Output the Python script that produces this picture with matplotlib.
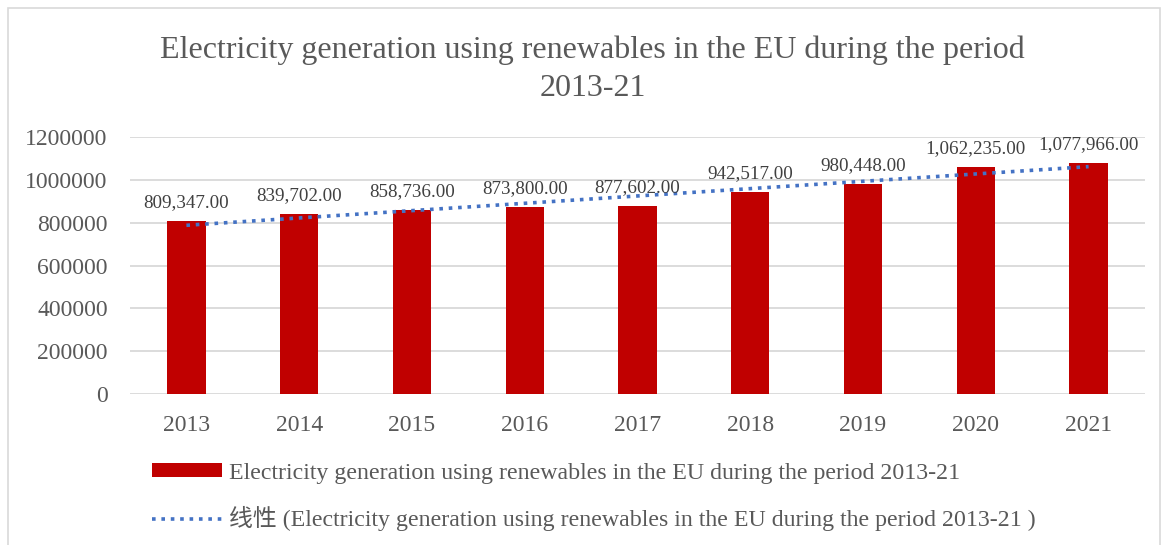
import numpy as np
import matplotlib
matplotlib.use('Agg')
import matplotlib.pyplot as plt
from matplotlib.patches import Patch, Rectangle
from matplotlib.lines import Line2D

plt.rcParams['font.family'] = ['Liberation Serif', 'Noto Sans CJK SC']

years = ['2013', '2014', '2015', '2016', '2017', '2018', '2019', '2020', '2021']
values = [809347, 839702, 858736, 873800, 877602, 942517, 980448, 1062235, 1077966]
series_name = 'Electricity generation using renewables in the EU during the period 2013-21'
trend_name = '线性 (Electricity generation using renewables in the EU during the period 2013-21 )'

text_col = '#595959'
bar_col = '#C00000'
trend_col = '#4472C4'
grid_col = '#D9D9D9'

fig = plt.figure(figsize=(11.67, 5.45), dpi=100)
ax = fig.add_axes([130/1167, 1-394/545, 1015/1167, (394-137)/545])

x = np.arange(len(years))
ax.bar(x, values, width=0.34, color=bar_col, zorder=2)

# linear trendline like excel
k, b = np.polyfit(x, values, 1)
ax.plot(x, k*x + b, color=trend_col, linestyle=(0, (1, 1.6)), linewidth=2.6, zorder=3)

for xi, v in zip(x, values):
    ax.text(xi, v + 45000, f'{v:,.2f}', ha='center', va='bottom', fontsize=13.7, color='#404040')

ax.set_xlim(-0.5, len(years) - 0.5)
ax.set_ylim(0, 1200000)
ax.set_yticks(np.arange(0, 1200001, 200000))
ax.set_yticklabels([str(t) for t in range(0, 1200001, 200000)])
ax.set_xticks(x)
ax.set_xticklabels(years)
ax.tick_params(length=0, labelsize=17, colors=text_col)
ax.tick_params(axis='x', pad=15)
ax.tick_params(axis='y', pad=16)
ax.grid(axis='y', color=grid_col, linewidth=1.3, zorder=0)
for s in ax.spines.values():
    s.set_visible(False)
ax.set_axisbelow(True)

fig.text(0.508, 1-50/545, 'Electricity generation using renewables in the EU during the period',
         ha='center', va='center', fontsize=23, color=text_col)
fig.text(0.508, 1-88/545, '2013-21', ha='center', va='center', fontsize=23, color=text_col)

handles = [Patch(facecolor=bar_col, edgecolor='none'),
           Line2D([0], [0], color=trend_col, linestyle=(0, (1, 1.6)), linewidth=2.6)]
fig.legend(handles, [series_name, trend_name], loc='upper left',
           bbox_to_anchor=(130/1167, 1-441/545), frameon=False, fontsize=17.2,
           labelcolor=text_col, handlelength=2.95, handleheight=0.5, handletextpad=0.3,
           labelspacing=0.95)

fig.patches.append(Rectangle((8/1167, -0.01), 1152/1167, 1-8/545 + 0.01, transform=fig.transFigure,
                             fill=False, edgecolor='#D9D9D9', linewidth=1.2))

fig.savefig('out.png', dpi=100)
